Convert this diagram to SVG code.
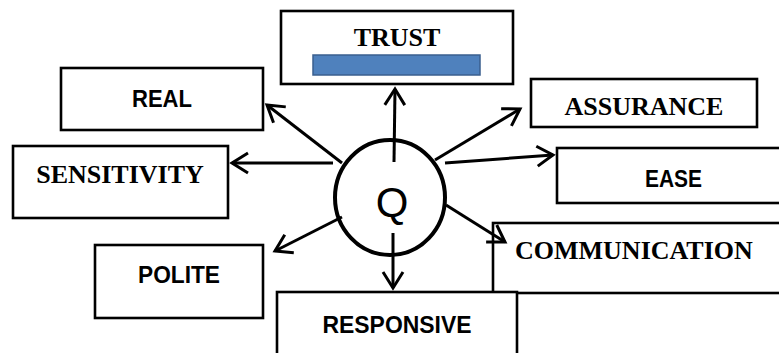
<svg xmlns="http://www.w3.org/2000/svg" width="779" height="353" viewBox="0 0 779 353">
<style>
.box{fill:#fff;stroke:#000;stroke-width:2.6}
.serif{font-family:"Liberation Serif","Times New Roman",serif;font-weight:bold;font-size:26px;fill:#000}
.sans{font-family:"Liberation Sans",Arial,sans-serif;font-weight:bold;font-size:24.5px;fill:#000}
.conn line{stroke:#000;stroke-width:3;marker-end:url(#arr)}
</style>
<defs>
<marker id="arr" markerUnits="userSpaceOnUse" viewBox="-22 -14 26 28" refX="0" refY="0" markerWidth="26" markerHeight="28" orient="auto">
<path d="M-16,-10 L0,0 L-16,10" fill="none" stroke="#000" stroke-width="3"/>
</marker>
</defs>
<rect width="779" height="353" fill="#fff"/>
<g id="node-trust">
<rect class="box" x="281" y="11" width="232" height="73" stroke-width="3"/>
<rect x="313" y="55" width="167" height="20" fill="#4F81BD" stroke="#3A5F8F" stroke-width="1.5"/>
<text class="serif" x="397" y="46" text-anchor="middle">TRUST</text>
</g>
<g id="node-real">
<rect class="box" x="61" y="68" width="202" height="62"/>
<text class="sans" x="162" y="107" text-anchor="middle" textLength="60" lengthAdjust="spacingAndGlyphs">REAL</text>
</g>
<g id="node-sensitivity">
<rect class="box" x="13" y="146" width="215" height="72"/>
<text class="serif" x="120" y="183" text-anchor="middle">SENSITIVITY</text>
</g>
<g id="node-assurance">
<rect class="box" x="531" y="79" width="226" height="48"/>
<text class="serif" x="644" y="115" text-anchor="middle">ASSURANCE</text>
</g>
<g id="node-ease">
<rect class="box" x="557" y="148" width="240" height="55"/>
<text class="sans" x="673.5" y="187" text-anchor="middle" textLength="57" lengthAdjust="spacingAndGlyphs">EASE</text>
</g>
<g id="node-communication">
<rect class="box" x="493" y="223" width="300" height="70"/>
<text class="serif" x="515" y="259">COMMUNICATION</text>
</g>
<g id="node-polite">
<rect class="box" x="95" y="245" width="168" height="73"/>
<text class="sans" x="179" y="283" text-anchor="middle" textLength="82" lengthAdjust="spacingAndGlyphs">POLITE</text>
</g>
<g id="node-responsive">
<rect class="box" x="277" y="292" width="240" height="80"/>
<text class="sans" x="397" y="333" text-anchor="middle" textLength="149" lengthAdjust="spacingAndGlyphs">RESPONSIVE</text>
</g>
<g id="node-q">
<ellipse cx="390" cy="197.5" rx="55" ry="57.5" fill="none" stroke="#000" stroke-width="4"/>
<text x="392" y="217" text-anchor="middle" font-family="Liberation Sans, Arial, sans-serif" font-size="42" fill="#000">Q</text>
</g>
<g id="connectors" class="conn">
<line x1="394" y1="162" x2="395" y2="89"/>
<line x1="342" y1="163" x2="267" y2="105"/>
<line x1="333" y1="163" x2="232" y2="163"/>
<line x1="435" y1="160" x2="520" y2="109"/>
<line x1="445" y1="163" x2="553" y2="155"/>
<line x1="446" y1="205" x2="505" y2="242"/>
<line x1="342" y1="217" x2="275" y2="251"/>
<line x1="393" y1="233" x2="393" y2="288"/>
</g>
</svg>
